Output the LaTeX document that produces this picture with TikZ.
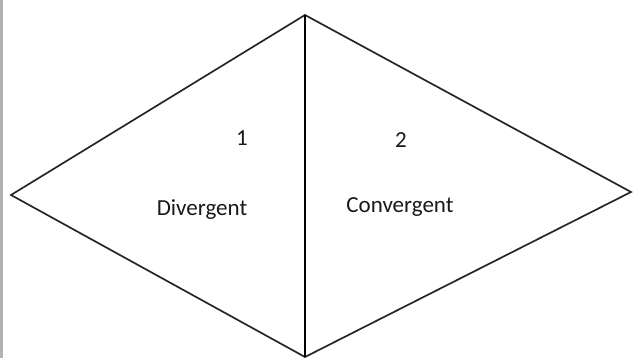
\documentclass[tikz,border=0pt]{standalone}
\usepackage{fontspec}
\setmainfont{Carlito}
\begin{document}
\begin{tikzpicture}[x=1pt,y=-1pt,
  edge/.style={draw=black!85,line width=1.7pt,line join=miter},
  mid/.style={draw=black,line width=2.6pt},
  lbl/.style={font=\fontsize{23}{26}\selectfont,text=black!90,inner sep=0pt}]
\useasboundingbox (0,0) rectangle (633,358);
\fill[black!30] (0,0) rectangle (3,358);
\coordinate (L) at (11,195);
\coordinate (T) at (305,15);
\coordinate (R) at (631,192);
\coordinate (B) at (305,357);
\draw[edge] (T) -- (L) -- (B) -- (R) -- cycle;
\draw[mid] (T) -- (B);
\node[lbl] (n1) at (242,138) {1};
\node[lbl] (n2) at (401,140) {2};
\node[lbl] (div) at (202,210) {Divergent};
\node[lbl] (conv) at (400,207) {Convergent};
\end{tikzpicture}
\end{document}
